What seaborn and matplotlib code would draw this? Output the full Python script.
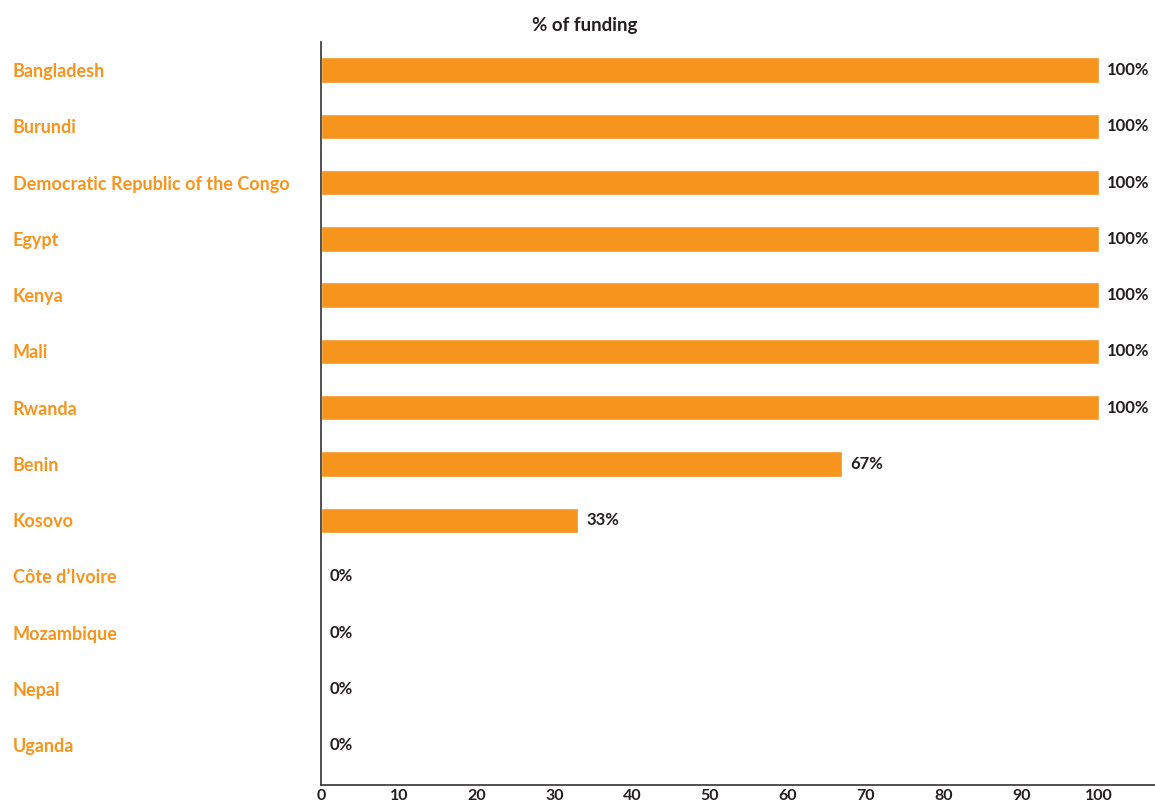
import matplotlib
matplotlib.use("Agg")
import matplotlib.pyplot as plt
import seaborn as sns
import pandas as pd

# ---- Data ----
countries = [
    "Bangladesh", "Burundi", "Democratic Republic of the Congo", "Egypt",
    "Kenya", "Mali", "Rwanda", "Benin", "Kosovo", "Côte d’Ivoire",
    "Mozambique", "Nepal", "Uganda",
]
funding = [100, 100, 100, 100, 100, 100, 100, 67, 33, 0, 0, 0, 0]
x_ticks = [0, 10, 20, 30, 40, 50, 60, 70, 80, 90, 100]

df = pd.DataFrame({"Country": countries, "Funding": funding})

orange = "#F7941D"
dark = "#231F20"

sns.set_theme(style="white")
plt.rcParams["font.family"] = ["Lato", "DejaVu Sans"]

fig, ax = plt.subplots(figsize=(11.55, 8.07), dpi=100)
fig.subplots_adjust(left=0.278, right=1.0, top=0.948, bottom=0.027)

sns.barplot(data=df, x="Funding", y="Country", color=orange, width=0.45,
            saturation=1, ax=ax, orient="h")

ax.bar_label(ax.containers[0], labels=[f"{v}%" for v in funding], padding=6,
             fontsize=12, color=dark, fontweight="bold")

ax.set_xlim(0, 107.2)
ax.set_ylim(12.71, -0.5)
ax.set_xticks(x_ticks)
ax.set_xticklabels([str(t) for t in x_ticks], fontsize=11.5, fontweight="bold",
                   color=dark)
ax.tick_params(axis="x", length=0, pad=3)
ax.tick_params(axis="y", length=0, pad=222)
for lab in ax.get_yticklabels():
    lab.set_horizontalalignment("left")
    lab.set_color(orange)
    lab.set_fontsize(13)
    lab.set_fontweight("bold")

ax.set_xlabel("")
ax.set_ylabel("")
ax.set_title("% of funding", fontsize=13.5, fontweight="bold", color=dark,
             pad=8, x=0.316)

sns.despine(ax=ax, top=True, right=True)
for side in ["left", "bottom"]:
    ax.spines[side].set_color("#333333")
    ax.spines[side].set_linewidth(1.2)

plt.savefig("out.png", dpi=100)
plt.close()
